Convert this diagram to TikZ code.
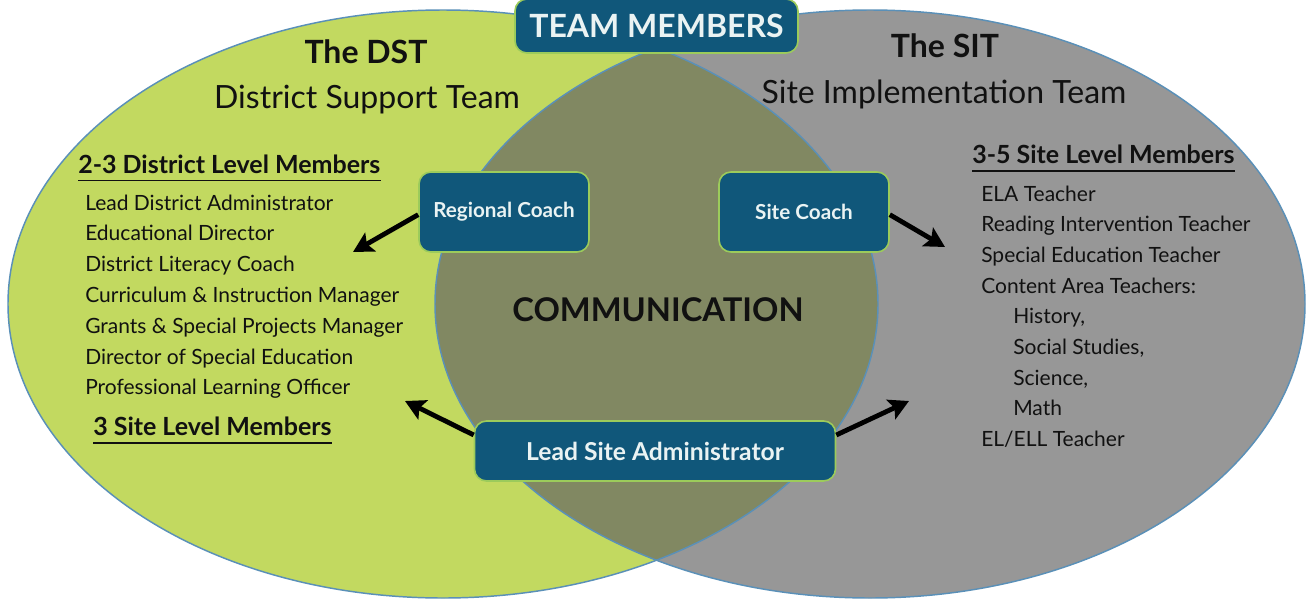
\documentclass[tikz,border=0pt]{standalone}
\usepackage{fontspec}
\setmainfont{Lato}
\usetikzlibrary{arrows.meta,calc}
\definecolor{dstgreen}{HTML}{C2D960}
\definecolor{sitgray}{HTML}{979797}
\definecolor{lensolive}{HTML}{818862}
\definecolor{rim}{HTML}{5A90B8}
\definecolor{boxteal}{HTML}{10577A}
\definecolor{boxrim}{HTML}{9CCB5B}
\definecolor{boxtext}{HTML}{EAF3F3}
\definecolor{ink}{HTML}{111111}
\tikzset{
  teambox/.style={draw=boxrim, line width=1.2pt, fill=boxteal, rounded corners=9pt,
    text=boxtext, inner sep=0pt, align=center},
  arr/.style={line width=3.6pt, draw=black, -{Stealth[length=15pt,width=16pt,inset=3pt]}},
  item/.style={anchor=base west, inner sep=0pt, text=ink, font=\fontsize{15.75}{19}\selectfont},
  head/.style={anchor=base west, inner sep=0pt, text=ink, font=\bfseries\fontsize{18.75}{22}\selectfont},
  titletext/.style={anchor=base, inner sep=0pt, text=ink, font=\bfseries\fontsize{24}{28}\selectfont},
  subtitle/.style={anchor=base, inner sep=0pt, text=ink, font=\fontsize{24}{28}\selectfont},
  uline/.style={line width=1.1pt, draw=ink},
}
\begin{document}
\begin{tikzpicture}[x=0.75pt,y=-0.75pt]
\useasboundingbox (0,0) rectangle (1307,600);
\fill[white] (0,0) rectangle (1307,600);
% ellipses
\fill[dstgreen] (443,304) ellipse [x radius=326.25pt, y radius=220.5pt];
\fill[sitgray] (870,304) ellipse [x radius=326.25pt, y radius=220.5pt];
\begin{scope}
  \clip (443,304) ellipse [x radius=326.25pt, y radius=220.5pt];
  \fill[lensolive] (870,304) ellipse [x radius=326.25pt, y radius=220.5pt];
\end{scope}
\draw[rim, line width=1.1pt] (443,304) ellipse [x radius=326.25pt, y radius=220.5pt];
\draw[rim, line width=1.1pt] (870,304) ellipse [x radius=326.25pt, y radius=220.5pt];

% titles
\node[titletext] (dst) at (366,63) {The DST};
\node[subtitle] (dsts) at (367,108) {District Support Team};
\node[titletext] (sit) at (945,57) {The SIT};
\node[subtitle] (sits) at (944,103) {Site Implementation Team};

% center label
\node[anchor=base, inner sep=0pt, text=ink, font=\bfseries\fontsize{24.5}{29}\selectfont] (comm) at (658,321) {COMMUNICATION};

% left list
\node[head] (lh1) at (78,173) {2-3 District Level Members};
\draw[uline] ([yshift=-5.5pt]lh1.base west) -- ([yshift=-5.5pt]lh1.base east);
\foreach \t [count=\i from 0] in {Lead District Administrator,Educational Director,District Literacy Coach,Curriculum \& Instruction Manager,Grants \& Special Projects Manager,Director of Special Education,Professional Learning Officer}
  \node[item] (l\i) at (85,{210+30.8*\i}) {\t};
\node[head] (lh2) at (93,435) {3 Site Level Members};
\draw[uline] ([yshift=-6pt]lh2.base west) -- ([yshift=-6pt]lh2.base east);

% right list
\node[head] (rh1) at (972,163) {3-5 Site Level Members};
\draw[uline] ([yshift=-6pt]rh1.base west) -- ([yshift=-6pt]rh1.base east);
\foreach \t/\xx [count=\i from 0] in {{ELA Teacher}/981,{Reading Intervention Teacher}/981,{Special Education Teacher}/981,{Content Area Teachers:}/981,{History,}/1013,{Social Studies,}/1013,{Science,}/1013,{Math}/1013,{EL/ELL Teacher}/981}
  \node[item] (r\i) at (\xx,{201+30.7*\i}) {\t};

% arrow targets
\coordinate (rcT) at (353,252);
\coordinate (scT) at (945,247);
\coordinate (lsaL) at (405,401);
\coordinate (lsaR) at (909,401);

% boxes
\node[teambox, minimum width=212.25pt, minimum height=40.5pt, font=\bfseries\fontsize{24}{28}\selectfont] (tm) at (656.5,26) {TEAM MEMBERS};
\node[teambox, minimum width=127.5pt, minimum height=60pt, font=\bfseries\fontsize{15.5}{19}\selectfont] (rc) at (504,212) {Regional Coach};
\node[teambox, minimum width=127.5pt, minimum height=60pt, font=\bfseries\fontsize{15.5}{19}\selectfont] (sc) at (804,212) {Site Coach};
\node[teambox, minimum width=270.75pt, minimum height=45pt, font=\bfseries\fontsize{18.5}{22}\selectfont] (lsa) at (655,451) {Lead Site Administrator};

\draw[arr] ([yshift=-2pt]rc.west) -- (rcT);
\draw[arr] ([yshift=-2pt]sc.east) -- (scT);
\draw[arr] ([yshift=12pt]lsa.west) -- (lsaL);
\draw[arr] ([yshift=12pt]lsa.east) -- (lsaR);
\end{tikzpicture}
\end{document}
